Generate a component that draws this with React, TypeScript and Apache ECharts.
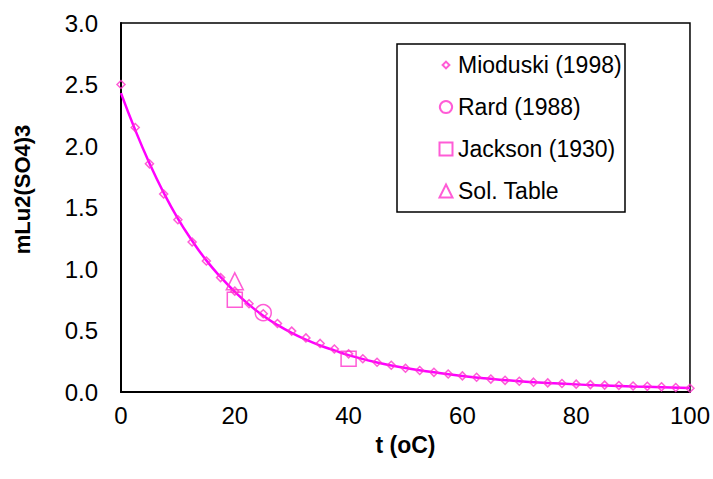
import React, { useEffect, useRef } from "react";
import * as echarts from "echarts";

const mioduskiT = [0, 2.5, 5, 7.5, 10, 12.5, 15, 17.5, 20, 22.5, 25, 27.5, 30, 32.5, 35, 37.5, 40, 42.5, 45, 47.5, 50, 52.5, 55, 57.5, 60, 62.5, 65, 67.5, 70, 72.5, 75, 77.5, 80, 82.5, 85, 87.5, 90, 92.5, 95, 97.5, 100];
const mioduskiM = [2.5, 2.15, 1.855, 1.61, 1.4, 1.22, 1.065, 0.93, 0.82, 0.717, 0.636, 0.557, 0.495, 0.44, 0.395, 0.35, 0.31, 0.27, 0.242, 0.218, 0.193, 0.175, 0.16, 0.146, 0.131, 0.12, 0.105, 0.095, 0.087, 0.08, 0.074, 0.069, 0.064, 0.06, 0.056, 0.053, 0.049, 0.046, 0.042, 0.037, 0.03];

const rardT = [25];
const rardM = [0.645];

const jacksonT = [20, 40];
const jacksonM = [0.75, 0.27];

const solT = [20];
const solM = [0.9];

const fitT = [0, 2.5, 5, 7.5, 10, 12.5, 15, 17.5, 20, 22.5, 25, 27.5, 30, 32.5, 35, 37.5, 40, 45, 50, 55, 60, 65, 70, 75, 80, 85, 90, 95, 100];
const fitM = [2.43, 2.13, 1.86, 1.62, 1.41, 1.23, 1.07, 0.935, 0.815, 0.71, 0.62, 0.545, 0.48, 0.425, 0.378, 0.338, 0.3, 0.24, 0.195, 0.16, 0.13, 0.107, 0.088, 0.074, 0.062, 0.053, 0.045, 0.039, 0.033];

const xTicks = [0, 20, 40, 60, 80, 100];
const yTicks = [0, 0.5, 1.0, 1.5, 2.0, 2.5, 3.0];

const legendNames = ["Mioduski (1998)", "Rard (1988)", "Jackson (1930)", "Sol. Table"];

const pink = "#FF33CC";
const magenta = "#FF00FF";
const font = "Liberation Sans, Arial, sans-serif";

const zip = (a: number[], b: number[]) => a.map((v, i) => [v, b[i]]);

export default function App() {
  const ref = useRef<HTMLDivElement>(null);
  useEffect(() => {
    if (!ref.current) return;
    const chart = echarts.init(ref.current, null, { renderer: "svg" });
    const hollow = { color: "transparent", borderColor: pink, borderWidth: 1.5 };
    chart.setOption({
      animation: false,
      backgroundColor: "#fff",
      grid: {
        left: 121,
        right: 21,
        top: 23,
        bottom: 87,
        show: true,
        borderColor: "#000",
        borderWidth: 1.5,
      },
      graphic: [
        {
          type: "rect",
          shape: { x: 397, y: 44, width: 228, height: 168 },
          style: { fill: "#fff", stroke: "#000", lineWidth: 1.5 },
          z: 5,
        },
      ],
      xAxis: {
        type: "value",
        min: xTicks[0],
        max: xTicks[xTicks.length - 1],
        interval: 20,
        name: "t (oC)",
        nameLocation: "middle",
        nameGap: 41,
        nameTextStyle: { fontFamily: font, fontSize: 23, fontWeight: "bold", color: "#000" },
        axisLine: { show: true, lineStyle: { color: "#000", width: 2 } },
        axisTick: { show: false },
        splitLine: { show: false },
        axisLabel: { fontFamily: font, fontSize: 24, color: "#000", margin: 11 },
      },
      yAxis: {
        type: "value",
        min: yTicks[0],
        max: yTicks[yTicks.length - 1],
        interval: 0.5,
        name: "mLu2(SO4)3",
        nameLocation: "middle",
        nameGap: 88,
        nameTextStyle: {
          fontFamily: font,
          fontSize: 22,
          fontWeight: "bold",
          color: "#000",
          padding: [0, 0, 0, 36],
        },
        axisLine: { show: true, lineStyle: { color: "#000", width: 2 } },
        axisTick: { show: false },
        splitLine: { show: false },
        axisLabel: {
          fontFamily: font,
          fontSize: 24,
          color: "#000",
          margin: 23,
          formatter: (v: number) => v.toFixed(1),
        },
      },
      legend: {
        orient: "vertical",
        left: 438,
        top: 53,
        padding: 0,
        itemGap: 18,
        itemWidth: 14,
        itemHeight: 14,
        z: 10,
        textStyle: { fontFamily: font, fontSize: 23, color: "#000", lineHeight: 24 },
        data: [
          { name: legendNames[0], icon: "path://M0,0M14,14M7,3.6L10.4,7L7,10.4L3.6,7Z" },
          { name: legendNames[1], icon: "path://M0,0M14,14M7,0.9A6.1,6.1,0,1,1,6.99,0.9Z" },
          { name: legendNames[2], icon: "path://M0,0M14,14M0.5,0.5L13.5,0.5L13.5,13.5L0.5,13.5Z" },
          { name: legendNames[3], icon: "path://M0,0M14,14M7,0.5L13.5,13.5L0.5,13.5Z" },
        ],
      },
      series: [
        {
          name: "fit",
          type: "line",
          data: zip(fitT, fitM),
          smooth: true,
          showSymbol: false,
          lineStyle: { color: magenta, width: 2.5 },
          z: 2,
        },
        {
          name: legendNames[0],
          type: "scatter",
          data: zip(mioduskiT, mioduskiM),
          symbol: "diamond",
          symbolSize: 8,
          itemStyle: hollow,
          z: 3,
        },
        {
          name: legendNames[1],
          type: "scatter",
          data: zip(rardT, rardM),
          symbol: "circle",
          symbolSize: 16,
          itemStyle: hollow,
          z: 3,
        },
        {
          name: legendNames[2],
          type: "scatter",
          data: zip(jacksonT, jacksonM),
          symbol: "rect",
          symbolSize: 15,
          itemStyle: hollow,
          z: 3,
        },
        {
          name: legendNames[3],
          type: "scatter",
          data: zip(solT, solM),
          symbol: "triangle",
          symbolSize: 17,
          itemStyle: hollow,
          z: 3,
        },
      ],
    });
    return () => chart.dispose();
  }, []);
  return <div ref={ref} style={{ width: 713, height: 479, position: "absolute", left: 0, top: 0 }} />;
}
